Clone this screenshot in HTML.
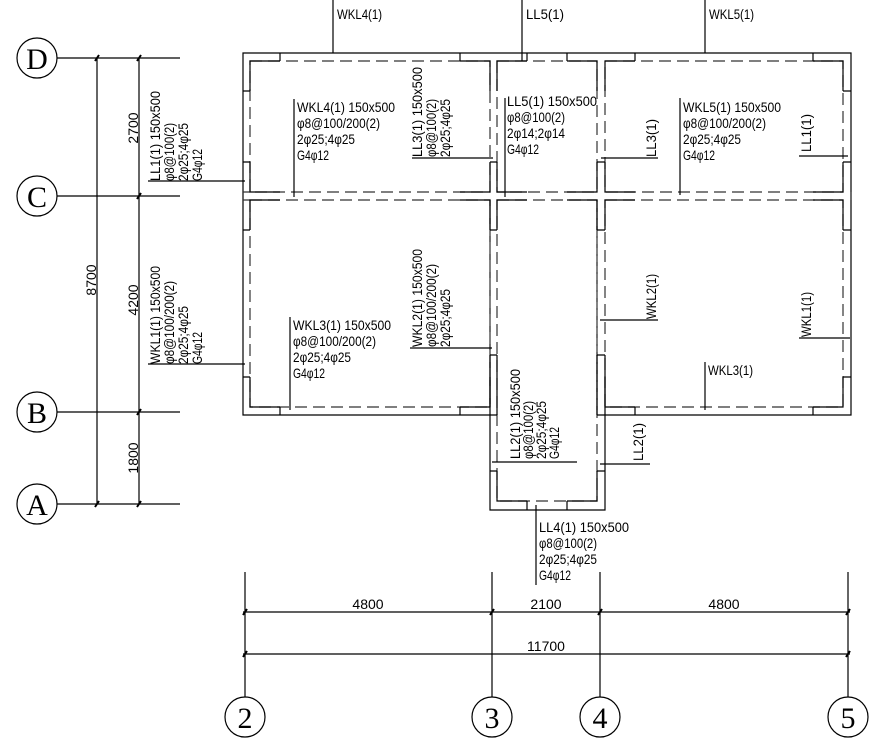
<!DOCTYPE html>
<html><head><meta charset="utf-8"><style>
html,body{margin:0;padding:0;background:#fff;}
svg{display:block;}
text{font-family:"Liberation Sans",sans-serif;font-size:14px;fill:#000;}
.c{font-family:"Liberation Serif",serif;font-size:30px;}
</style></head><body>
<svg width="880" height="743" viewBox="0 0 880 743" xmlns="http://www.w3.org/2000/svg">
<g fill="none" stroke="#000" stroke-width="1.2">
<path d="M243 53H851V415H605V510H490V415H243Z"/>
<g stroke-dasharray="12 6" stroke="#333">
<rect x="250" y="61" width="240" height="131"/>
<rect x="497" y="61" width="100" height="131"/>
<rect x="605" y="61" width="238" height="131"/>
<rect x="250" y="200" width="240" height="207"/>
<rect x="497" y="200" width="100" height="301"/>
<rect x="605" y="200" width="238" height="207"/>
<path d="M490 200V407M597 200V415M243 192H250M243 200H250M851 192V200"/>
</g>
<path d="M250 91V61H280M460 61H490V91M490 162V192H460M280 192H250V162"/>
<path d="M497 91V61H527M567 61H597V91M597 162V192H567M527 192H497V162"/>
<path d="M605 91V61H635M813 61H843V91M843 162V192H813M635 192H605V162"/>
<path d="M250 230V200H280M460 200H490V230M490 377V407H460M280 407H250V377"/>
<path d="M497 230V200H527M567 200H597V230M597 471V501H567M527 501H497V471"/>
<path d="M605 230V200H635M813 200H843V230M843 377V407H813M635 407H605V377"/>
<path d="M497 355V415M597 355V415M490 355V415M605 355V415M490 415H497M597 415H605M490 355H497M597 355H605"/>
<path d="M280 53V61M460 53V61M527 53V61M567 53V61M635 53V61M813 53V61M243 91H250M243 162H250M243 230H250M243 377H250M843 91H851M843 162H851M843 230H851M843 377H851M280 407V415M460 407V415M635 407V415M813 407V415M497 162H490M597 162H605M497 230H490M597 230H605M527 501V510M567 501V510M490 471H497M597 471H605"/>
<path d="M57 58H180M57 196H180M57 412H180M57 504H180M97 58V504M139 58V504"/>
<circle cx="37" cy="58" r="20"/><circle cx="37" cy="196" r="20"/><circle cx="37" cy="412" r="20"/><circle cx="37" cy="504" r="20"/>
<path d="M245 572V697M492 572V697M600 572V697M848 572V697M243 612H850M243 654H850"/>
<circle cx="245" cy="717" r="20"/><circle cx="492" cy="717" r="20"/><circle cx="600" cy="717" r="20"/><circle cx="848" cy="717" r="20"/>
<path stroke-width="2" d="M243 615L247 609M490 615L494 609M598 615L602 609M846 615L850 609M243 657L247 651M846 657L850 651M95 61L99 55M137 61L141 55M137 199L141 193M137 415L141 409M95 507L99 501M137 507L141 501"/>
<path d="M333 0V53M522 0V61M705 0V53M294 99V197M412 158H493M505 98V197M680 98V195M601 158H658M799 156H848M148 181H245M148 364H245M290 317V410M410 348H492M600 320H658M799 338H850M705 362V410M492 462H577M600 464H650M536 505V585"/>
</g>
<g lengthAdjust="spacingAndGlyphs">
<text x="337" y="19" textLength="45" lengthAdjust="spacingAndGlyphs">WKL4(1)</text>
<text x="526" y="19" textLength="38" lengthAdjust="spacingAndGlyphs">LL5(1)</text>
<text x="709" y="19" textLength="45" lengthAdjust="spacingAndGlyphs">WKL5(1)</text>
<text x="297" y="112" textLength="98" lengthAdjust="spacingAndGlyphs">WKL4(1) 150x500</text><text x="297" y="128" textLength="83" lengthAdjust="spacingAndGlyphs">φ8@100/200(2)</text><text x="297" y="144" textLength="58" lengthAdjust="spacingAndGlyphs">2φ25;4φ25</text><text x="297" y="160" textLength="32" lengthAdjust="spacingAndGlyphs">G4φ12</text>
<text x="507" y="106" textLength="90" lengthAdjust="spacingAndGlyphs">LL5(1) 150x500</text><text x="507" y="122" textLength="58" lengthAdjust="spacingAndGlyphs">φ8@100(2)</text><text x="507" y="138" textLength="58" lengthAdjust="spacingAndGlyphs">2φ14;2φ14</text><text x="507" y="154" textLength="32" lengthAdjust="spacingAndGlyphs">G4φ12</text>
<text x="683" y="112" textLength="98" lengthAdjust="spacingAndGlyphs">WKL5(1) 150x500</text><text x="683" y="128" textLength="83" lengthAdjust="spacingAndGlyphs">φ8@100/200(2)</text><text x="683" y="144" textLength="58" lengthAdjust="spacingAndGlyphs">2φ25;4φ25</text><text x="683" y="160" textLength="32" lengthAdjust="spacingAndGlyphs">G4φ12</text>
<text x="293" y="330" textLength="98" lengthAdjust="spacingAndGlyphs">WKL3(1) 150x500</text><text x="293" y="346" textLength="83" lengthAdjust="spacingAndGlyphs">φ8@100/200(2)</text><text x="293" y="362" textLength="58" lengthAdjust="spacingAndGlyphs">2φ25;4φ25</text><text x="293" y="378" textLength="32" lengthAdjust="spacingAndGlyphs">G4φ12</text>
<text x="708" y="375" textLength="45" lengthAdjust="spacingAndGlyphs">WKL3(1)</text>
<text x="539" y="532" textLength="90" lengthAdjust="spacingAndGlyphs">LL4(1) 150x500</text><text x="539" y="548" textLength="58" lengthAdjust="spacingAndGlyphs">φ8@100(2)</text><text x="539" y="564" textLength="58" lengthAdjust="spacingAndGlyphs">2φ25;4φ25</text><text x="539" y="580" textLength="32" lengthAdjust="spacingAndGlyphs">G4φ12</text>
<text transform="translate(422,157) rotate(-90)" textLength="90" lengthAdjust="spacingAndGlyphs">LL3(1) 150x500</text>
<text transform="translate(436,157) rotate(-90)" textLength="58" lengthAdjust="spacingAndGlyphs">φ8@100(2)</text>
<text transform="translate(450,157) rotate(-90)" textLength="58" lengthAdjust="spacingAndGlyphs">2φ25;4φ25</text>
<text transform="translate(160,181) rotate(-90)" textLength="90" lengthAdjust="spacingAndGlyphs">LL1(1) 150x500</text>
<text transform="translate(174,181) rotate(-90)" textLength="58" lengthAdjust="spacingAndGlyphs">φ8@100(2)</text>
<text transform="translate(188,181) rotate(-90)" textLength="58" lengthAdjust="spacingAndGlyphs">2φ25;4φ25</text>
<text transform="translate(202,181) rotate(-90)" textLength="32" lengthAdjust="spacingAndGlyphs">G4φ12</text>
<text transform="translate(160,364) rotate(-90)" textLength="98" lengthAdjust="spacingAndGlyphs">WKL1(1) 150x500</text>
<text transform="translate(174,364) rotate(-90)" textLength="83" lengthAdjust="spacingAndGlyphs">φ8@100/200(2)</text>
<text transform="translate(188,364) rotate(-90)" textLength="58" lengthAdjust="spacingAndGlyphs">2φ25;4φ25</text>
<text transform="translate(202,364) rotate(-90)" textLength="32" lengthAdjust="spacingAndGlyphs">G4φ12</text>
<text transform="translate(422,347) rotate(-90)" textLength="98" lengthAdjust="spacingAndGlyphs">WKL2(1) 150x500</text>
<text transform="translate(436,347) rotate(-90)" textLength="83" lengthAdjust="spacingAndGlyphs">φ8@100/200(2)</text>
<text transform="translate(450,347) rotate(-90)" textLength="58" lengthAdjust="spacingAndGlyphs">2φ25;4φ25</text>
<text transform="translate(520,459) rotate(-90)" textLength="90" lengthAdjust="spacingAndGlyphs">LL2(1) 150x500</text>
<text transform="translate(533,459) rotate(-90)" textLength="58" lengthAdjust="spacingAndGlyphs">φ8@100(2)</text>
<text transform="translate(546,459) rotate(-90)" textLength="58" lengthAdjust="spacingAndGlyphs">2φ25;4φ25</text>
<text transform="translate(559,459) rotate(-90)" textLength="32" lengthAdjust="spacingAndGlyphs">G4φ12</text>
<text transform="translate(656,157) rotate(-90)" textLength="38" lengthAdjust="spacingAndGlyphs">LL3(1)</text>
<text transform="translate(811,152) rotate(-90)" textLength="38" lengthAdjust="spacingAndGlyphs">LL1(1)</text>
<text transform="translate(656,319) rotate(-90)" textLength="45" lengthAdjust="spacingAndGlyphs">WKL2(1)</text>
<text transform="translate(811,337) rotate(-90)" textLength="45" lengthAdjust="spacingAndGlyphs">WKL1(1)</text>
<text transform="translate(643,461) rotate(-90)" textLength="38" lengthAdjust="spacingAndGlyphs">LL2(1)</text>
<text text-anchor="middle" transform="translate(138,128) rotate(-90)">2700</text>
<text text-anchor="middle" transform="translate(138,300) rotate(-90)">4200</text>
<text text-anchor="middle" transform="translate(138,458) rotate(-90)">1800</text>
<text text-anchor="middle" transform="translate(96,280) rotate(-90)">8700</text>
<text x="368" y="609" text-anchor="middle">4800</text>
<text x="546" y="609" text-anchor="middle">2100</text>
<text x="724" y="609" text-anchor="middle">4800</text>
<text x="546" y="651" text-anchor="middle">11700</text>
<text class="c" x="37" y="69" text-anchor="middle">D</text>
<text class="c" x="37" y="207" text-anchor="middle">C</text>
<text class="c" x="37" y="423" text-anchor="middle">B</text>
<text class="c" x="37" y="515" text-anchor="middle">A</text>
<text class="c" x="245" y="728" text-anchor="middle">2</text>
<text class="c" x="492" y="728" text-anchor="middle">3</text>
<text class="c" x="600" y="728" text-anchor="middle">4</text>
<text class="c" x="848" y="728" text-anchor="middle">5</text>
</g>
</svg>
</body></html>
